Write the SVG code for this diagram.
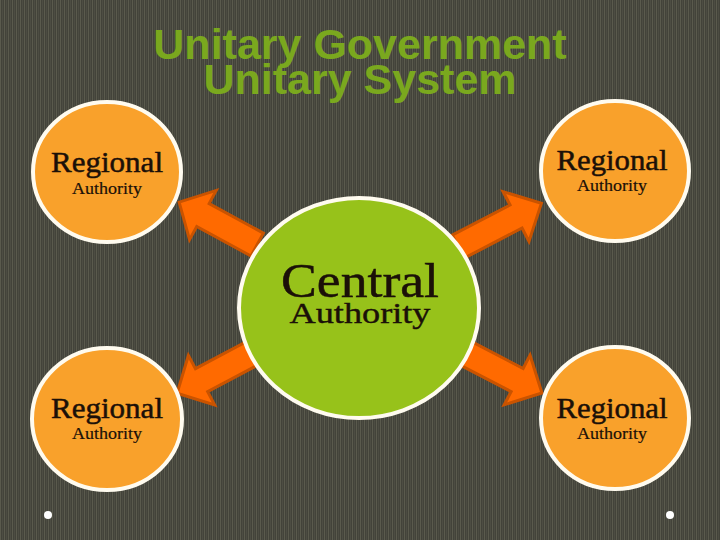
<svg xmlns="http://www.w3.org/2000/svg" width="720" height="540" viewBox="0 0 720 540">
<defs>
<pattern id="stripes" width="4" height="8" patternUnits="userSpaceOnUse">
<rect width="4" height="8" fill="#43433a"/>
<rect x="0" width="1" height="8" fill="#5a5a4d"/>
<rect x="2" width="1" height="8" fill="#4d4d43"/>
</pattern>
<path id="arrowShape" d="M-12,-13 L52,-13 L52,-28 L80,0 L52,28 L52,13 L-12,13 Z"/>
</defs>
<style>
.title{font-family:"Liberation Sans",Arial,sans-serif;font-weight:bold;font-size:43px;fill:#7aa81e;text-anchor:middle}
.reg{fill:#f9a12b;stroke:#fffbef;stroke-width:4}
.cen{fill:#97c21a;stroke:#fffbef;stroke-width:4}
.big{font-family:"Liberation Serif","Times New Roman",serif;font-size:30px;fill:#1b1008;text-anchor:middle;stroke:#1b1008;stroke-width:0.5}
.small{font-family:"Liberation Serif","Times New Roman",serif;font-size:17px;fill:#1b1008;text-anchor:middle;stroke:#1b1008;stroke-width:0.2}
.arrow{fill:#ff6a00;stroke:#c95300;stroke-width:3;stroke-linejoin:miter}
.dot{fill:#ffffff}
</style>
<rect width="720" height="540" fill="url(#stripes)"/>
<g id="title">
<text class="title" x="360" y="59">Unitary Government</text>
<text class="title" x="360" y="94">Unitary System</text>
</g>
<g id="connectors">
<use href="#arrowShape" class="arrow" transform="translate(247,239) rotate(208.5) scale(0.965,1)"/>
<use href="#arrowShape" class="arrow" transform="translate(469,241) rotate(-27.5) scale(1.02,1)"/>
<use href="#arrowShape" class="arrow" transform="translate(247,356) rotate(152) scale(0.99,1)"/>
<use href="#arrowShape" class="arrow" transform="translate(471,356) rotate(27.5)"/>
</g>
<g id="central">
<ellipse class="cen" cx="359" cy="308" rx="120" ry="110"/>
<text class="big" x="360" y="297" style="font-size:49px" textLength="158" lengthAdjust="spacingAndGlyphs">Central</text>
<text class="big" x="360" y="323" style="font-size:30px;stroke-width:0.4" textLength="141" lengthAdjust="spacingAndGlyphs">Authority</text>
</g>
<g id="regional-tl">
<ellipse class="reg" cx="107" cy="172" rx="74" ry="70"/>
<text class="big" x="107" y="172" textLength="112" lengthAdjust="spacingAndGlyphs">Regional</text>
<text class="small" x="107" y="194" textLength="70" lengthAdjust="spacingAndGlyphs">Authority</text>
</g>
<g id="regional-tr">
<ellipse class="reg" cx="615" cy="171" rx="74" ry="70"/>
<text class="big" x="612" y="170" textLength="111" lengthAdjust="spacingAndGlyphs">Regional</text>
<text class="small" x="612" y="191" textLength="70" lengthAdjust="spacingAndGlyphs">Authority</text>
</g>
<g id="regional-bl">
<ellipse class="reg" cx="107" cy="419" rx="75" ry="71"/>
<text class="big" x="107" y="418" textLength="112" lengthAdjust="spacingAndGlyphs">Regional</text>
<text class="small" x="107" y="439" textLength="70" lengthAdjust="spacingAndGlyphs">Authority</text>
</g>
<g id="regional-br">
<ellipse class="reg" cx="615" cy="418" rx="74" ry="71"/>
<text class="big" x="612" y="418" textLength="111" lengthAdjust="spacingAndGlyphs">Regional</text>
<text class="small" x="612" y="439" textLength="70" lengthAdjust="spacingAndGlyphs">Authority</text>
</g>
<g id="bullets">
<circle class="dot" cx="48" cy="515" r="4"/>
<circle class="dot" cx="670" cy="515" r="4"/>
</g>
</svg>
